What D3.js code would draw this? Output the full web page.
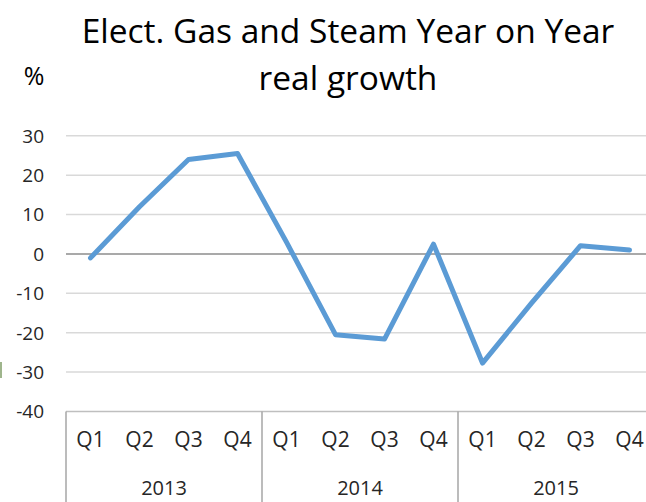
<!DOCTYPE html>
<html><head><meta charset="utf-8">
<script src="https://cdn.jsdelivr.net/npm/d3@7"></script>
<style>body{margin:0;background:#fff}svg{display:block}</style>
</head><body>
<svg id="c" width="646" height="502"></svg>
<script>
const years = ["2013", "2014", "2015"];
const quarters = ["Q1", "Q2", "Q3", "Q4"];
const values = [-1, 12, 24, 25.5, 3, -20.5, -21.6, 2.5, -27.7, -12.5, 2.1, 1.0];
const yTicks = [30, 20, 10, 0, -10, -20, -30, -40];
const title = ["Elect. Gas and Steam Year on Year", "real growth"];

const svg = d3.select("#c");
const W = 646, H = 502;
const left = 66, bandW = 49;
const cats = d3.range(values.length);
const x = d3.scaleBand().domain(cats).range([left, left + bandW * cats.length]);
const y = d3.scaleLinear().domain([-40, 30]).range([411.5, 135.8]);
const font = "'Open Sans', sans-serif";

// gridlines
svg.append("g").selectAll("line").data(yTicks.filter(d => d !== -40 && d !== 0)).join("line")
  .attr("x1", left).attr("x2", W).attr("y1", d => y(d)).attr("y2", d => y(d))
  .attr("stroke", "#d9d9d9").attr("stroke-width", 1.5);
// zero line
svg.append("line").attr("x1", left).attr("x2", W).attr("y1", y(0)).attr("y2", y(0))
  .attr("stroke", "#8c8c8c").attr("stroke-width", 1.5);
// bottom axis line
svg.append("line").attr("x1", left).attr("x2", W).attr("y1", y(-40)).attr("y2", y(-40))
  .attr("stroke", "#bfbfbf").attr("stroke-width", 1.5);

// y tick labels
svg.append("g").selectAll("text").data(yTicks).join("text")
  .attr("x", 44).attr("y", d => y(d)).attr("dy", "0.36em")
  .attr("text-anchor", "end").attr("font-family", font).attr("font-size", 19)
  .attr("fill", "#262626").text(d => d);

// year separators
const sepIdx = [0, 4, 8];
svg.append("g").selectAll("line").data(sepIdx).join("line")
  .attr("x1", d => x(d)).attr("x2", d => x(d)).attr("y1", y(-40)).attr("y2", H)
  .attr("stroke", "#a6a6a6").attr("stroke-width", 1.5);

// quarter labels
svg.append("g").selectAll("text").data(cats).join("text")
  .attr("x", d => x(d) + x.bandwidth() / 2).attr("y", 447)
  .attr("text-anchor", "middle").attr("font-family", font).attr("font-size", 21)
  .attr("fill", "#262626").text(d => quarters[d % 4]);

// year labels
svg.append("g").selectAll("text").data(years).join("text")
  .attr("x", (d, i) => x(i * 4) + bandW * 2).attr("y", 495)
  .attr("text-anchor", "middle").attr("font-family", font).attr("font-size", 20)
  .attr("fill", "#262626").text(d => d);

// line
const line = d3.line().x((d, i) => x(i) + x.bandwidth() / 2).y(d => y(d));
svg.append("path").datum(values).attr("d", line)
  .attr("fill", "none").attr("stroke", "#5b9bd5").attr("stroke-width", 5)
  .attr("stroke-linejoin", "round").attr("stroke-linecap", "round");

// title
svg.append("g").selectAll("text").data(title).join("text")
  .attr("x", 348).attr("y", (d, i) => 43 + i * 47)
  .attr("text-anchor", "middle").attr("font-family", font).attr("font-size", 33.5)
  .attr("fill", "#000").text(d => d);

// % label
svg.append("text").attr("x", 34).attr("y", 85).attr("text-anchor", "middle")
  .attr("font-family", font).attr("font-size", 25).attr("fill", "#000").text("%");

// small edge artifact
svg.append("rect").attr("x", 0).attr("y", 362).attr("width", 2).attr("height", 16).attr("fill", "#9fb58c");
</script>
</body></html>
